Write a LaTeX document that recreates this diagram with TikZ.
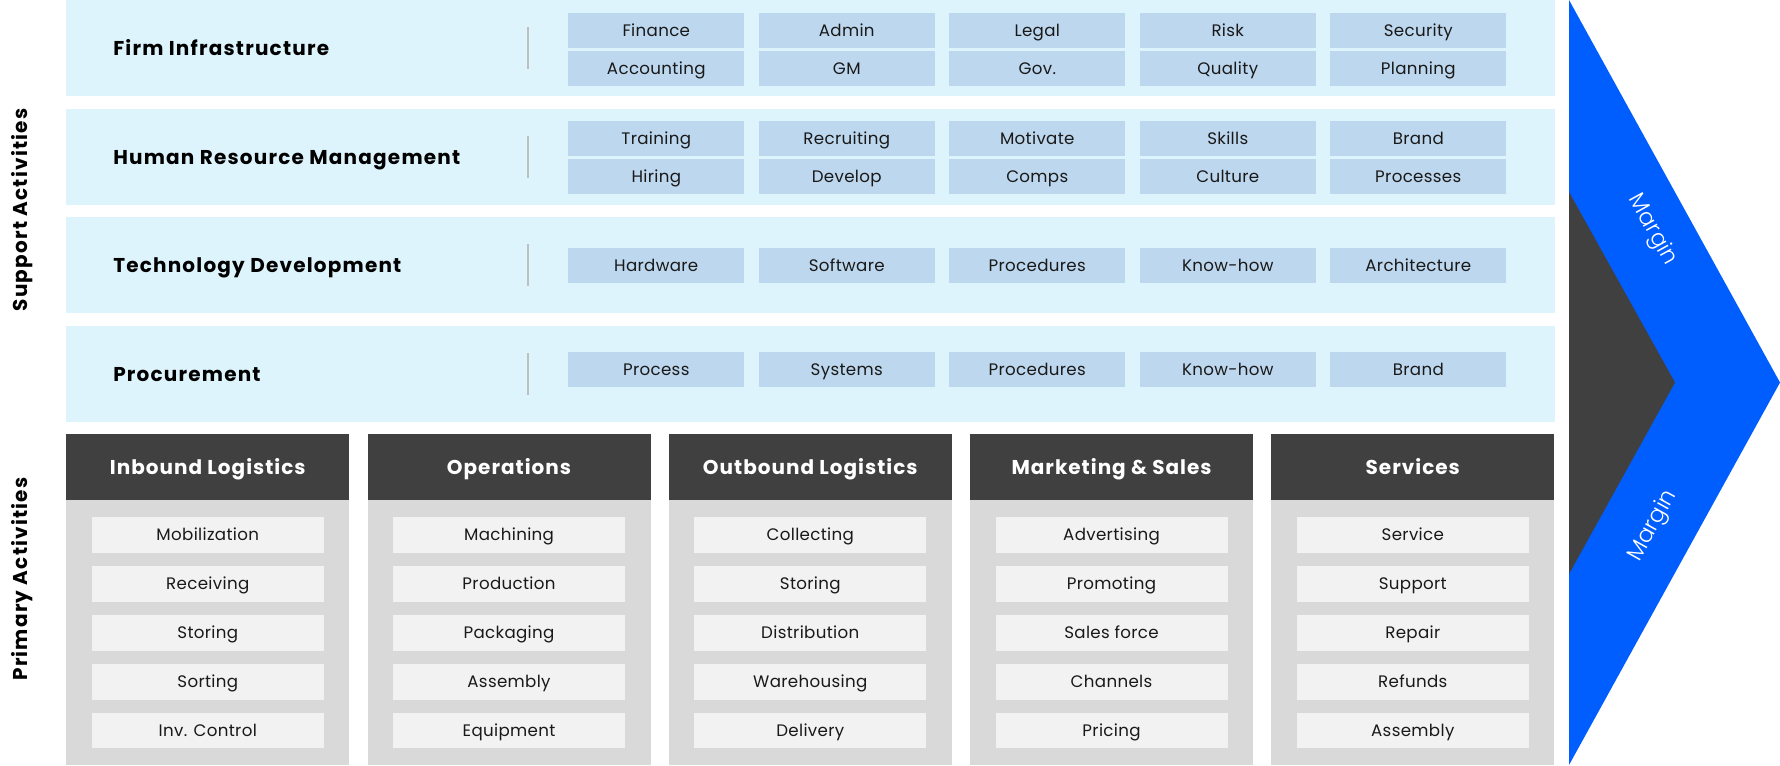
\documentclass[tikz,border=0pt]{standalone}
\usepackage{fontspec}
\setmainfont{Poppins}
\newfontfamily\lightfont{Poppins Light}
\definecolor{panelc}{HTML}{DDF4FD}
\definecolor{boxc}{HTML}{BDD7EE}
\definecolor{darkc}{HTML}{404040}
\definecolor{grayc}{HTML}{D9D9D9}
\definecolor{itemc}{HTML}{F2F2F2}
\definecolor{bluec}{HTML}{005EFF}
\definecolor{sepc}{HTML}{BFBFBF}
\tikzset{
  panel/.style={fill=panelc, inner sep=0pt, minimum width=1489*0.75pt, minimum height=96*0.75pt, anchor=north west},
  ptitle/.style={anchor=base west, inner sep=0pt, font=\bfseries\fontsize{15pt}{18pt}\selectfont\addfontfeature{LetterSpace=6}, text=black},
  sbox/.style={fill=boxc, inner sep=0pt, minimum width=176*0.75pt, minimum height=35*0.75pt, anchor=north west, text height=8.7pt, text depth=0pt, font=\fontsize{12.5pt}{14pt}\selectfont\addfontfeature{LetterSpace=2}, text=black!90},
  colhead/.style={fill=darkc, inner sep=0pt, minimum width=283*0.75pt, minimum height=66*0.75pt, anchor=north west, text height=10.5pt, text depth=0pt, font=\bfseries\fontsize{15pt}{18pt}\selectfont\addfontfeature{LetterSpace=5}, text=white},
  colbody/.style={fill=grayc, inner sep=0pt, minimum width=283*0.75pt, minimum height=265*0.75pt, anchor=north west},
  pitem/.style={fill=itemc, inner sep=0pt, minimum width=232*0.75pt, minimum height=35.5*0.75pt, anchor=north west, text height=8.7pt, text depth=0pt, font=\fontsize{12.5pt}{14pt}\selectfont\addfontfeature{LetterSpace=2}, text=black!90},
  sidelabel/.style={rotate=90, inner sep=0pt, font=\bfseries\fontsize{15pt}{18pt}\selectfont\addfontfeature{LetterSpace=6}, text=black},
  marginlabel/.style={inner sep=0pt, font=\lightfont\fontsize{17pt}{19pt}\selectfont, text=white},
  sepline/.style={draw=sepc, line width=1.5pt}
}
\begin{document}
\begin{tikzpicture}[x=0.75pt,y=-0.75pt]
\useasboundingbox[fill=white] (0,0) rectangle (1780,765);

% side labels
\node[sidelabel] (sa) at (22,210) {Support Activities};
\node[sidelabel] (pa) at (22,579) {Primary Activities};

% support panels
\foreach \t/\name/\title [count=\i] in {0/fi/Firm Infrastructure, 109/hr/Human Resource Management, 217/td/Technology Development, 326/pr/Procurement}{
  \node[panel] (\name) at (66,\t) {};
  \node[ptitle] (\name-t) at (113,\t+55.5) {\title};
  \coordinate (\name-s1) at (528,\t+27);
  \coordinate (\name-s2) at (528,\t+69);
  \draw[sepline] (\name-s1) -- (\name-s2);
}

% Firm infrastructure boxes
\foreach \a/\b [count=\i from 0] in {Finance/Accounting, Admin/GM, Legal/Gov., Risk/Quality, Security/Planning}{
  \node[sbox] (fi-a\i) at (568+190.5*\i,13) {\a};
  \node[sbox] (fi-b\i) at (568+190.5*\i,51) {\b};
}
% HRM boxes
\foreach \a/\b [count=\i from 0] in {Training/Hiring, Recruiting/Develop, Motivate/Comps, Skills/Culture, Brand/Processes}{
  \node[sbox] (hr-a\i) at (568+190.5*\i,120.5) {\a};
  \node[sbox] (hr-b\i) at (568+190.5*\i,158.8) {\b};
}
% Technology boxes
\foreach \a [count=\i from 0] in {Hardware, Software, Procedures, Know-how, Architecture}{
  \node[sbox] (td-a\i) at (568+190.5*\i,247.5) {\a};
}
% Procurement boxes
\foreach \a [count=\i from 0] in {Process, Systems, Procedures, Know-how, Brand}{
  \node[sbox] (pr-a\i) at (568+190.5*\i,352) {\a};
}

% primary columns
\foreach \h/\ia/\ib/\ic/\id/\ie [count=\i from 0] in {
  Inbound Logistics/Mobilization/Receiving/Storing/Sorting/Inv. Control,
  Operations/Machining/Production/Packaging/Assembly/Equipment,
  Outbound Logistics/Collecting/Storing/Distribution/Warehousing/Delivery,
  Marketing \& Sales/Advertising/Promoting/Sales force/Channels/Pricing,
  Services/Service/Support/Repair/Refunds/Assembly}{
  \node[colbody] (c\i-body) at (66+301.25*\i,500) {};
  \node[colhead] (c\i-head) at (66+301.25*\i,434) {\h};
  \node[pitem] (c\i-1) at (91.5+301.25*\i,517) {\ia};
  \node[pitem] (c\i-2) at (91.5+301.25*\i,566) {\ib};
  \node[pitem] (c\i-3) at (91.5+301.25*\i,615) {\ic};
  \node[pitem] (c\i-4) at (91.5+301.25*\i,664) {\id};
  \node[pitem] (c\i-5) at (91.5+301.25*\i,712.5) {\ie};
}

% margin chevron
\fill[bluec] (1569,0) -- (1780,382.5) -- (1569,765) -- cycle;
\fill[darkc] (1569,192) -- (1675,382.5) -- (1569,574) -- cycle;
\node[marginlabel, rotate=-61] (m1) at (1652,230) {Margin};
\node[marginlabel, rotate=61] (m2) at (1653,526) {Margin};
\end{tikzpicture}
\end{document}
